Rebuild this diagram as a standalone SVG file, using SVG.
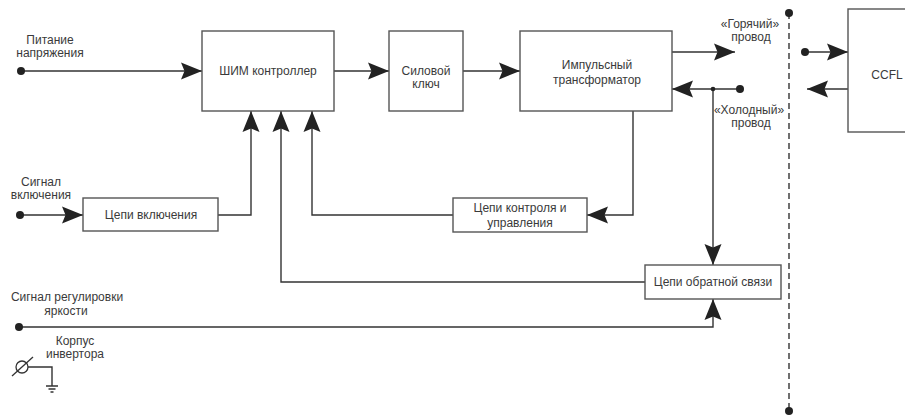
<svg xmlns="http://www.w3.org/2000/svg" width="905" height="417" viewBox="0 0 905 417">
  <style>
    .box { fill: #fff; stroke: #555; stroke-width: 1.4; }
    .wire { fill: none; stroke: #333; stroke-width: 1.4; }
    .arr { marker-end: url(#head); }
    .dot { fill: #222; }
    .bus { fill: none; stroke: #333; stroke-width: 1.4; stroke-dasharray: 6 4; }
    text { font-family: "Liberation Sans", Arial, sans-serif; font-size: 12px; fill: #3a3a3a; text-anchor: middle; }
  </style>
  <defs>
    <marker id="head" markerUnits="userSpaceOnUse" viewBox="-22 -10 24 20" markerWidth="24" markerHeight="20" refX="0" refY="0" orient="auto">
      <path d="M0,0 L-21,-8.5 L-17.5,0 L-21,8.5 Z" fill="#222"/>
    </marker>
  </defs>

  <rect width="905" height="417" fill="#fff"/>

  <!-- connectors -->
  <g id="connectors">
    <path class="wire arr" d="M21,71 H202"/>
    <path class="wire arr" d="M334,71 H389"/>
    <path class="wire arr" d="M463,71 H520"/>
    <path class="wire arr" d="M672,52 H735"/>
    <path class="wire arr" d="M740,89 H672"/>
    <path class="wire arr" d="M713,89 V265"/>
    <path class="wire arr" d="M805,52 H848"/>
    <path class="wire arr" d="M848,89 H807"/>
    <path class="wire arr" d="M633,111 V215 H587"/>
    <path class="wire arr" d="M453,215 H312 V111"/>
    <path class="wire arr" d="M20,215 H83"/>
    <path class="wire arr" d="M218,215 H251 V111"/>
    <path class="wire arr" d="M645,282 H281 V111"/>
    <path class="wire arr" d="M19,327 H713 V299"/>
    <line class="bus" x1="789" y1="13" x2="789" y2="411"/>
    <circle class="dot" cx="21" cy="71" r="4"/>
    <circle class="dot" cx="20" cy="215" r="4"/>
    <circle class="dot" cx="19" cy="327" r="4"/>
    <circle class="dot" cx="740" cy="89" r="4"/>
    <circle class="dot" cx="713" cy="89" r="2.3"/>
    <circle class="dot" cx="805" cy="52" r="4"/>
    <circle class="dot" cx="789" cy="13" r="4"/>
    <circle class="dot" cx="789" cy="411" r="4"/>
  </g>

  <!-- input / output labels -->
  <g id="label-power">
    <text x="50" y="44">Питание</text>
    <text x="50" y="57">напряжения</text>
  </g>
  <g id="label-enable">
    <text x="41" y="186">Сигнал</text>
    <text x="41" y="199">включения</text>
  </g>
  <g id="label-dimming">
    <text x="67" y="301">Сигнал регулировки</text>
    <text x="66" y="315">яркости</text>
  </g>
  <g id="label-hot">
    <text x="750" y="28">«Горячий»</text>
    <text x="751" y="41">провод</text>
  </g>
  <g id="label-cold">
    <text x="749" y="114">«Холодный»</text>
    <text x="751" y="127">провод</text>
  </g>

  <!-- chassis ground -->
  <g id="chassis">
    <text x="75" y="345">Корпус</text>
    <text x="75" y="358">инвертора</text>
    <circle cx="22" cy="367" r="6" fill="none" stroke="#333" stroke-width="1.3"/>
    <line x1="12" y1="376" x2="33" y2="357" stroke="#333" stroke-width="1.3"/>
    <path class="wire" d="M28,367 H52 V386"/>
    <path d="M46,386 H58 M48.5,389 H55.5 M50.5,392 H53.5" stroke="#333" stroke-width="1.3"/>
  </g>

  <!-- blocks -->
  <g id="pwm">
    <rect class="box" x="202" y="31" width="132" height="80"/>
    <text x="268" y="75">ШИМ контроллер</text>
  </g>
  <g id="switch">
    <rect class="box" x="389" y="31" width="74" height="80"/>
    <text x="426" y="75">Силовой</text>
    <text x="426" y="88">ключ</text>
  </g>
  <g id="transformer">
    <rect class="box" x="520" y="31" width="152" height="80"/>
    <text x="597" y="69">Импульсный</text>
    <text x="597" y="84">трансформатор</text>
  </g>
  <g id="ccfl">
    <rect class="box" x="848" y="9" width="70" height="123"/>
    <text x="887" y="79">CCFL</text>
  </g>
  <g id="enable">
    <rect class="box" x="83" y="198" width="135" height="33"/>
    <text x="151" y="219">Цепи включения</text>
  </g>
  <g id="control">
    <rect class="box" x="453" y="198" width="134" height="34"/>
    <text x="520" y="212">Цепи контроля и</text>
    <text x="520" y="227">управления</text>
  </g>
  <g id="feedback">
    <rect class="box" x="645" y="265" width="136" height="34"/>
    <text x="713" y="286">Цепи обратной связи</text>
  </g>
</svg>
